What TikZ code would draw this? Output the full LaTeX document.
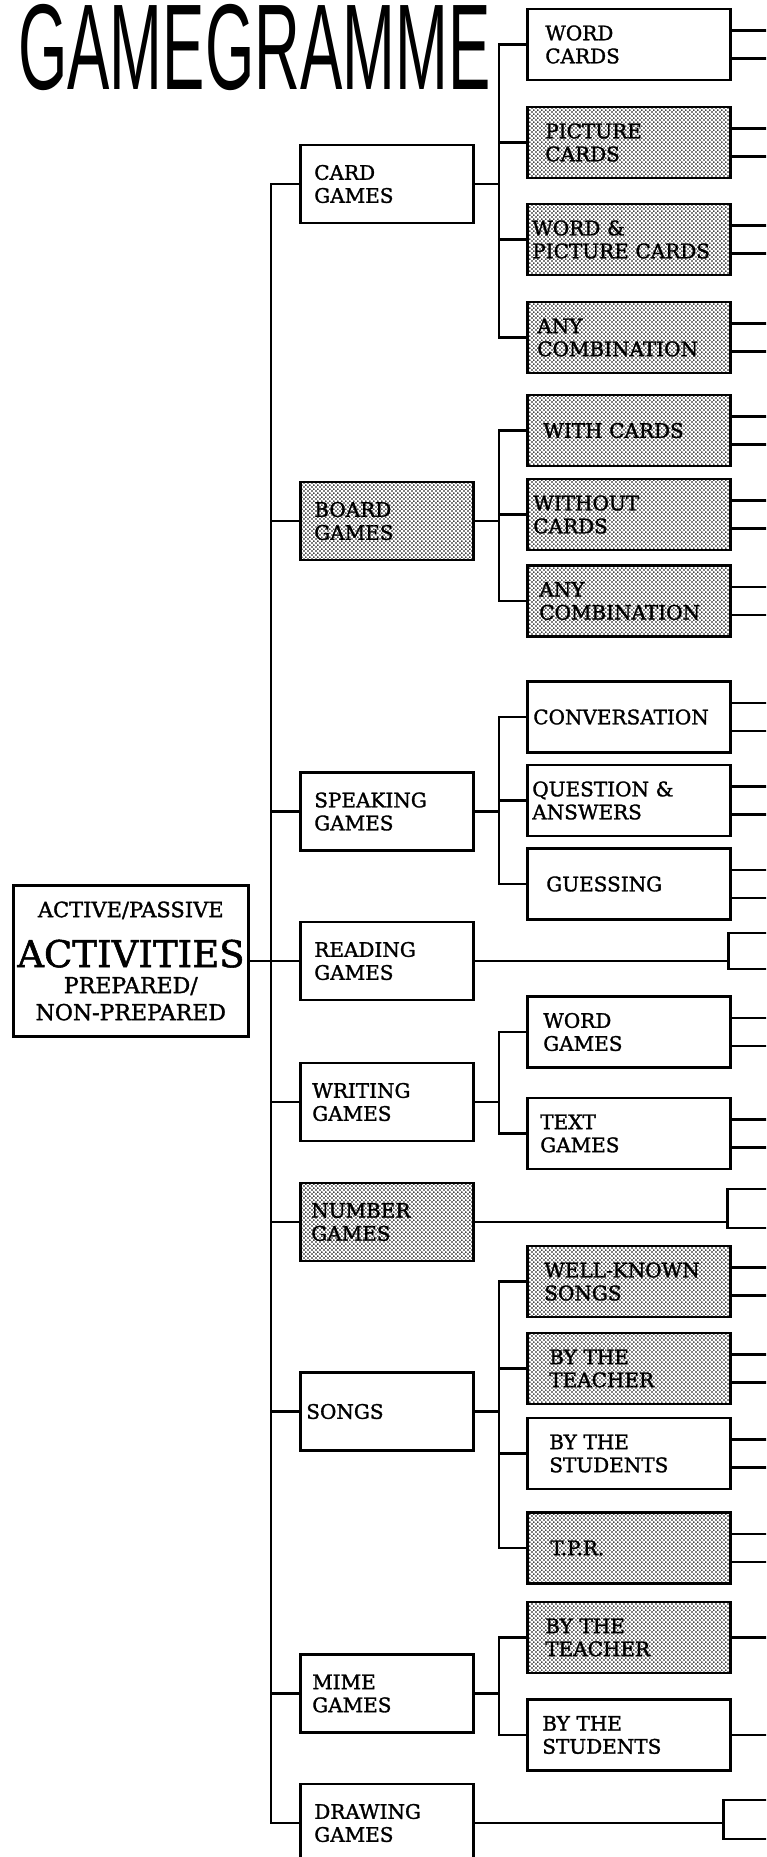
\documentclass[tikz,border=0pt]{standalone}
\usepackage{fontspec}
\setmainfont{DejaVu Serif}[FakeBold=1.5]
\newfontfamily\titlefont{Liberation Sans}
\usetikzlibrary{positioning,patterns}

% halftone screen for the grey boxes
\pgfdeclarepatternformonly{halftone}{\pgfqpoint{0pt}{0pt}}{\pgfqpoint{4.4pt}{4.4pt}}{\pgfqpoint{4.4pt}{4.4pt}}{%
  \pgfpathcircle{\pgfqpoint{1.1pt}{1.1pt}}{0.95pt}%
  \pgfpathcircle{\pgfqpoint{3.3pt}{3.3pt}}{0.95pt}%
  \pgfusepath{fill}}

\begin{document}
\begin{tikzpicture}[
  x=1pt, y=-1pt,
  font=\fontsize{20}{23}\selectfont,
  box/.style={draw, line width=2.6pt, align=left, inner ysep=0pt},
  grp/.code={\pgfmathsetlengthmacro\boxtw{173pt-2*#1}%
    \tikzset{box, anchor=west, inner xsep=#1, text width=\boxtw, minimum height=78pt}},
  grp/.default=14pt,
  sub/.code={\pgfmathsetlengthmacro\boxtw{203pt-2*#1}%
    \tikzset{box, anchor=west, inner xsep=#1, text width=\boxtw, minimum height=71pt}},
  sub/.default=18pt,
  dots/.style={pattern=halftone, pattern color=black},
  tail/.style={draw, line width=2.6pt, anchor=west, minimum width=90pt, minimum height=#1},
  ln/.style={line width=2.3pt, line cap=rect}
]
\useasboundingbox (0,0) rectangle (766,1857);
\clip (0,0) rectangle (766,1857);

% ---------------- title
\node[anchor=base west, inner sep=0pt, text height=88pt, text depth=0pt] (title) at (18,90)
  {\titlefont\scalebox{0.52}[1]{\fontsize{122}{122}\selectfont GAMEGRAMME}};

% ---------------- root
\node[box, align=center, text width=227pt, inner xsep=4pt, minimum height=151pt, anchor=west] (act) at (12,961) {%
  {\fontsize{21}{21}\selectfont ACTIVE/PASSIVE\par}%
  {\fontsize{37}{50}\selectfont ACTIVITIES\par}%
  {\fontsize{22}{26}\selectfont PREPARED/\par}%
  {\fontsize{22}{27}\selectfont NON-PREPARED\par}};

% ---------------- game types
\node[grp] (card) at (299,184) {CARD\\GAMES};
\node[grp, dots] (board) at (299,521) {BOARD\\GAMES};
\node[grp] (speak) at (299,811.5) {SPEAKING\\GAMES};
\node[grp] (read) at (299,961) {READING\\GAMES};
\node[grp=12pt] (write) at (299,1102) {WRITING\\GAMES};
\node[grp=11pt, dots] (number) at (299,1222) {NUMBER\\GAMES};
\node[grp=6pt] (songs) at (299,1411.5) {SONGS};
\node[grp=12pt] (mime) at (299,1693.5) {MIME\\GAMES};
\node[grp] (drawg) at (299,1823) {DRAWING\\GAMES};

% ---------------- variants
\node[sub] (wcards) at (526,44.5) {WORD\\CARDS};
\node[sub, dots] (pcards) at (526,142.5) {PICTURE\\CARDS};
\node[sub=5pt, dots] (wpcards) at (526,239.5) {WORD \&\\PICTURE CARDS};
\node[sub=10pt, dots] (anyc1) at (526,337.5) {ANY\\COMBINATION};
\node[sub=16pt, dots] (withc) at (526,430.5) {WITH CARDS};
\node[sub=6pt, dots] (withoutc) at (526,514.5) {WITHOUT\\CARDS};
\node[sub=12pt, dots] (anyc2) at (526,601) {ANY\\COMBINATION};
\node[sub=6pt] (conv) at (526,717) {CONVERSATION};
\node[sub=5pt] (qa) at (526,800.5) {QUESTION \&\\ANSWERS};
\node[sub=19pt] (guess) at (526,884) {GUESSING};
\node[sub=16pt] (wgames) at (526,1032) {WORD\\GAMES};
\node[sub=13pt] (tgames) at (526,1133.5) {TEXT\\GAMES};
\node[sub=17pt, dots] (wellk) at (526,1281.5) {WELL-KNOWN\\SONGS};
\node[sub=22pt, dots] (sbyt) at (526,1368.5) {BY THE\\TEACHER};
\node[sub=22pt] (sbys) at (526,1453.5) {BY THE\\STUDENTS};
\node[sub=23pt, dots] (tpr) at (526,1548) {T.P.R.};
\node[sub=18pt, dots] (mbyt) at (526,1637.5) {BY THE\\TEACHER};
\node[sub=15pt] (mbys) at (526,1735) {BY THE\\STUDENTS};

% ---------------- boxes cut by the page edge
\node[tail=36pt] (rtail) at (727,951) {};
\node[tail=39pt] (ntail) at (726,1208.5) {};
\node[tail=39pt] (dtail) at (722,1819.5) {};

\coordinate (trunk) at (271,0);
\coordinate (brk) at (499,0);
\coordinate (rim) at (780,0);

% ---------------- trunk
\draw[ln] (card.west -| trunk) -- (drawg.west -| trunk);
\draw[ln] (act.east) -- (act.east -| trunk);
\foreach \n in {card,board,speak,read,write,number,songs,mime,drawg}
  \draw[ln] (\n.west -| trunk) -- (\n.west);

% ---------------- brackets
\draw[ln] (card.east) -- (card.east -| brk);
\draw[ln] (wcards.west -| brk) -- (anyc1.west -| brk);
\draw[ln] (board.east) -- (board.east -| brk);
\draw[ln] (withc.west -| brk) -- (anyc2.west -| brk);
\draw[ln] (speak.east) -- (speak.east -| brk);
\draw[ln] (conv.west -| brk) -- (guess.west -| brk);
\draw[ln] (write.east) -- (write.east -| brk);
\draw[ln] (wgames.west -| brk) -- (tgames.west -| brk);
\draw[ln] (songs.east) -- (songs.east -| brk);
\draw[ln] (wellk.west -| brk) -- (tpr.west -| brk);
\draw[ln] (mime.east) -- (mime.east -| brk);
\draw[ln] (mbyt.west -| brk) -- (mbys.west -| brk);
\foreach \n in {wcards,pcards,wpcards,anyc1,withc,withoutc,anyc2,conv,qa,guess,
                wgames,tgames,wellk,sbyt,sbys,tpr,mbyt,mbys}
  \draw[ln] (\n.west -| brk) -- (\n.west);

% ---------------- onward lines
\foreach \n in {wcards,pcards,wpcards,anyc1,withc,withoutc,anyc2,conv,qa,guess,
                wgames,tgames,wellk,sbyt,sbys,tpr} {
  \draw[ln] ([yshift=14pt]\n.east) -- ([yshift=14pt]\n.east -| rim);
  \draw[ln] ([yshift=-14pt]\n.east) -- ([yshift=-14pt]\n.east -| rim);
}
\foreach \n in {mbyt,mbys}
  \draw[ln] (\n.east) -- (\n.east -| rim);
\draw[ln] (read.east) -- (read.east -| rtail.west);
\draw[ln] (number.east) -- (number.east -| ntail.west);
\draw[ln] (drawg.east) -- (drawg.east -| dtail.west);
\end{tikzpicture}
\end{document}
